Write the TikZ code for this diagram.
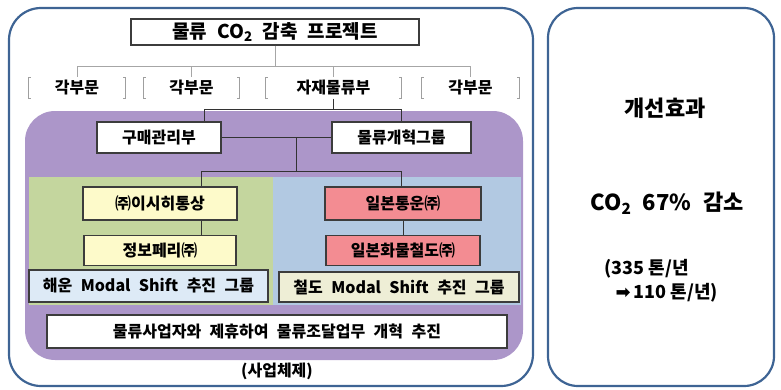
\documentclass[tikz,border=0pt]{standalone}
\usepackage{fontspec}
\setmainfont{Noto Sans CJK KR}[WordSpace=2.3]
\newfontfamily\plainfont{Noto Sans CJK KR}
\newfontfamily\symfont{DejaVu Sans}
\usetikzlibrary{positioning}
\definecolor{frameBlue}{RGB}{62,100,148}
\definecolor{purpleBg}{RGB}{172,150,201}
\definecolor{greenBg}{RGB}{196,214,158}
\definecolor{blueBg}{RGB}{178,201,226}
\definecolor{yellowBox}{RGB}{253,250,202}
\definecolor{redBox}{RGB}{243,140,146}
\definecolor{seaBox}{RGB}{221,234,246}
\definecolor{railBox}{RGB}{238,238,214}
\definecolor{boxLine}{RGB}{60,60,60}

\begin{document}
\begin{tikzpicture}[x=1pt,y=1pt,
      frame/.style={draw=frameBlue,line width=2.2pt,rounded corners=32pt},
      unit/.style={draw=boxLine,line width=1.1pt,fill=white,minimum height=30pt,inner sep=1pt,font=\fontsize{16}{18}\selectfont\bfseries},
      dept/.style={minimum height=21pt,inner sep=1pt,font=\fontsize{16}{18}\selectfont\bfseries},
      bracket/.style={draw=gray!75,line width=1pt},
      link/.style={draw=black!80,line width=1pt},
      toplink/.style={draw=gray!70,line width=1pt},
      note/.style={font=\fontsize{22}{26}\selectfont\bfseries}]
    \useasboundingbox (0,0) rectangle (781,-389);
    % frames and coloured areas
    \draw[frame] (9,-8) rectangle (533,-386);
    \draw[frame,rounded corners=30pt] (548,-8) rectangle (774,-386);
    \fill[purpleBg,rounded corners=30pt] (25,-111) rectangle (523,-360);
    \fill[greenBg] (29,-177) rectangle (273,-305);
    \fill[blueBg] (273,-177) rectangle (521,-305);
    % organisation
    \node[unit,minimum width=288pt,minimum height=26pt,font=\fontsize{19}{21}\selectfont\bfseries] (title) at (275,-32) {물류 CO\textsubscript{2} 감축 프로젝트};
    \node[dept,minimum width=96pt] (dept1) at (77,-88) {각부문};
    \node[dept,minimum width=95pt] (dept2) at (191.5,-88) {각부문};
    \node[dept,minimum width=135pt] (mat) at (333.5,-88) {자재물류부};
    \node[dept,minimum width=97pt] (dept4) at (470.5,-88) {각부문};
    \foreach \n in {dept1,dept2,mat,dept4}{
      \draw[bracket] ([xshift=2pt]\n.north west) -- (\n.north west) -- (\n.south west) -- ([xshift=2pt]\n.south west);
      \draw[bracket] ([xshift=-2pt]\n.north east) -- (\n.north east) -- (\n.south east) -- ([xshift=-2pt]\n.south east);
    }
    \node[unit,minimum width=124pt,minimum height=31pt] (buy) at (159,-137.5) {구매관리부};
    \node[unit,minimum width=139pt,minimum height=31pt] (reform) at (401.5,-137.5) {물류개혁그룹};
    \node[unit,fill=yellowBox,minimum width=154pt,minimum height=33pt] (ishi) at (160,-203.5) {㈜이시히통상};
    \node[unit,fill=yellowBox,minimum width=152pt,below=14pt of ishi] (ferry) {정보페리㈜};
    \node[unit,fill=redBox,minimum width=156pt,minimum height=33pt] (nittsu) at (403,-203.5) {일본통운㈜};
    \node[unit,fill=redBox,minimum width=154pt,below=14pt of nittsu] (jrf) {일본화물철도㈜};
    \node[unit,fill=seaBox,minimum width=239pt,minimum height=32pt] (seagrp) at (148.5,-286) {해운 Modal Shift 추진 그룹};
    \node[unit,fill=railBox,minimum width=240pt] (railgrp) at (399,-287) {철도 Modal Shift 추진 그룹};
    \node[unit,minimum width=460pt,minimum height=33pt] (alliance) at (277,-331.5) {물류사업자와 제휴하여 물류조달업무 개혁 추진};
    \node[font=\fontsize{16}{18}\selectfont\bfseries] (caption) at (277,-371) {(사업체제)};
    % connectors
    \draw[toplink] (title.south) -- ++(0,-21) coordinate (hub);
    \foreach \n in {dept1,dept2,mat,dept4}
      \draw[toplink] (hub) -| (\n.north);
    \draw[link] (mat.south) -- ++(0,-11) coordinate (hubm);
    \draw[link] (hubm) -| ([xshift=45pt]buy.north);
    \draw[link] (hubm) -| (reform.north);
    \draw[link] (buy) -- (reform);
    \draw[link] ([xshift=75pt]buy.east) -- ++(0,-34) coordinate (hubg);
    \draw[link] (hubg) -| ([xshift=41pt]ishi.north);
    \draw[link] (hubg) -| ([xshift=-2pt]nittsu.north);
    \draw[link] ([xshift=41pt]ishi.south) -- ([xshift=41pt]ferry.north);
    \draw[link] (nittsu) -- (jrf);
    % effect
    \node[note] (effect) at (665,-108) {개선효과};
    \node[note] (co2) at (667,-203) {CO\textsubscript{2} 67\% 감소};
    \node[note,align=left,anchor=west,font=\plainfont\fontsize{18}{24}\selectfont\bfseries] (cut) at (601,-281) {(335 톤/년\\\hspace{11pt}{\symfont ➡}\,110 톤/년)};
  \end{tikzpicture}
\end{document}
